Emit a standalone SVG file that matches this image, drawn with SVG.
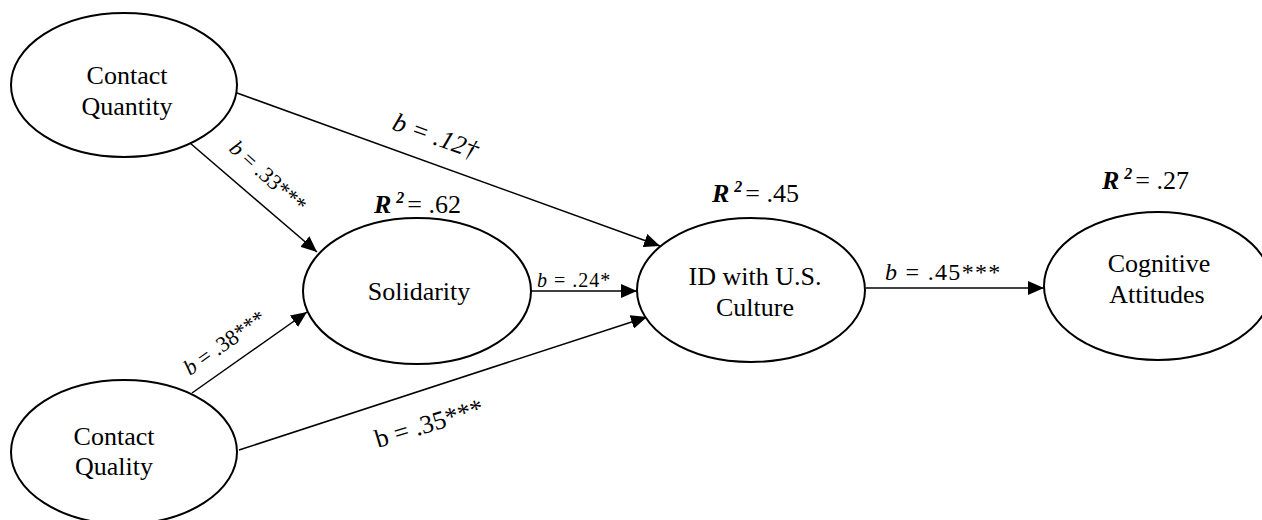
<svg xmlns="http://www.w3.org/2000/svg" width="1262" height="520" viewBox="0 0 1262 520">
<defs>
<marker id="arr" markerWidth="16" markerHeight="14" refX="16" refY="7" orient="auto" markerUnits="userSpaceOnUse">
<path d="M0,0 L16,7 L0,14 z" fill="#000"/>
</marker>
<style>
text{font-family:'Liberation Serif','Times New Roman','DejaVu Serif',serif;fill:#000}
.node ellipse{fill:#fff;stroke:#000;stroke-width:2}
.lbl{font-size:26px;text-anchor:middle}
.edge line{stroke:#000;stroke-width:1.5;marker-end:url(#arr)}
.it{font-style:italic}
.bi{font-style:italic;font-weight:bold}
.r2{font-size:26px}
</style>
</defs>
<rect width="1262" height="520" fill="#fff"/>
<g id="connectors" class="edge">
<line x1="237" y1="93" x2="660" y2="246"/>
<line x1="190" y1="143" x2="317" y2="252"/>
<line x1="192" y1="393" x2="307" y2="312"/>
<line x1="239" y1="450" x2="647" y2="317"/>
<line x1="531" y1="291" x2="637" y2="291"/>
<line x1="866" y1="288" x2="1044" y2="288"/>
</g>
<g id="contact-quantity" class="node">
<ellipse cx="124" cy="85" rx="113" ry="72"/>
<text class="lbl" x="127" y="84">Contact</text>
<text class="lbl" x="127" y="115">Quantity</text>
</g>
<g id="contact-quality" class="node">
<ellipse cx="124" cy="452" rx="113" ry="72"/>
<text class="lbl" x="114" y="445">Contact</text>
<text class="lbl" x="114" y="475">Quality</text>
</g>
<g id="solidarity" class="node">
<ellipse cx="417" cy="291" rx="114" ry="73"/>
<text class="lbl" x="419" y="300">Solidarity</text>
</g>
<g id="id-us-culture" class="node">
<ellipse cx="751" cy="290" rx="114" ry="72"/>
<text class="lbl" x="755" y="285">ID with U.S.</text>
<text class="lbl" x="755" y="316">Culture</text>
</g>
<g id="cognitive-attitudes" class="node">
<ellipse cx="1158" cy="286" rx="114" ry="74"/>
<text class="lbl" x="1159" y="272">Cognitive</text>
<text class="lbl" x="1157" y="303">Attitudes</text>
</g>
<g id="r2-labels">
<text class="r2" x="374" y="213"><tspan class="bi">R</tspan><tspan class="bi" font-size="16" dx="5" dy="-10">2</tspan><tspan dx="3" dy="10">= .62</tspan></text>
<text class="r2" x="712" y="202"><tspan class="bi">R</tspan><tspan class="bi" font-size="16" dx="5" dy="-10">2</tspan><tspan dx="3" dy="10">= .45</tspan></text>
<text class="r2" x="1102" y="189"><tspan class="bi">R</tspan><tspan class="bi" font-size="16" dx="5" dy="-10">2</tspan><tspan dx="3" dy="10">= .27</tspan></text>
</g>
<g id="coefficients">
<text class="it" font-size="26" transform="translate(391,129) rotate(20)">b = .12†</text>
<text font-size="22" transform="translate(228,150) rotate(42)"><tspan class="it">b</tspan> = .33***</text>
<text font-size="22" transform="translate(190,376) rotate(-35.2)"><tspan class="it">b</tspan> = .38***</text>
<text font-size="26" transform="translate(378,448) rotate(-17)">b = .35***</text>
<text font-size="20" x="537" y="287" letter-spacing="1"><tspan class="it">b</tspan> = .24*</text>
<text font-size="24" x="885" y="280" letter-spacing="1.3"><tspan class="it">b</tspan> = .45***</text>
</g>
</svg>
